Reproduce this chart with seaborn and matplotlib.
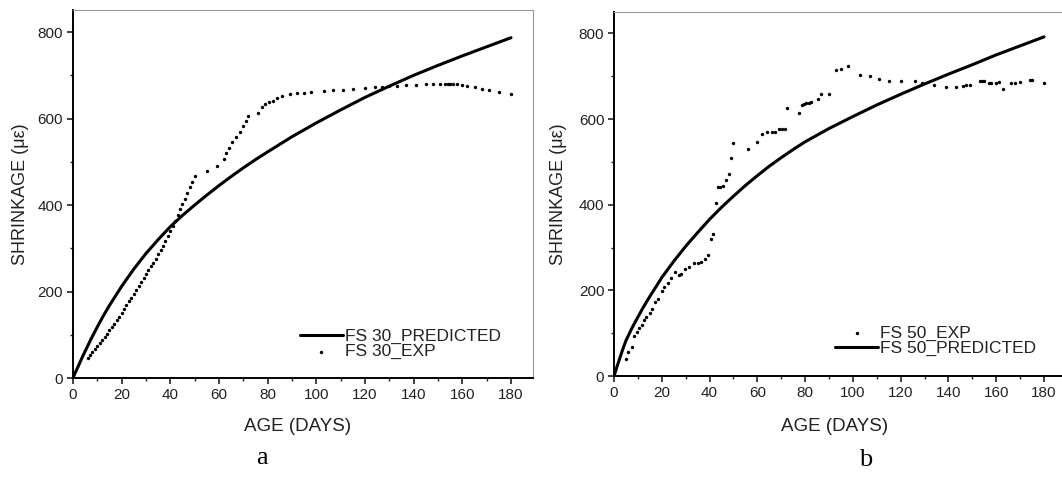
import numpy as np
import pandas as pd
import seaborn as sns
import matplotlib.pyplot as plt
from matplotlib.ticker import MultipleLocator

# panel a: FS 30
pred30_t = [0, 1, 2, 3.5, 5, 7.5, 10, 12.5, 15, 20, 25, 30, 35, 40, 45, 50, 55, 60, 65, 70, 75, 80,
            90, 100, 110, 120, 130, 140, 150, 160, 170, 180]
pred30_v = [0, 13, 25, 44, 62, 91, 118, 144, 168, 212, 252, 288, 320, 350, 376, 400, 423, 445, 466,
            486, 505, 523, 558, 590, 620, 649, 675, 700, 723, 745, 766, 787]

exp30_t = [6, 7, 8, 9, 10, 11, 12, 13, 14, 15, 16, 17, 18, 19, 20, 21, 22, 23, 24, 25,
           26, 27, 28, 29, 30, 31, 32, 33, 34, 35, 36, 37, 38, 39, 40, 41, 42, 43, 44, 45,
           46, 47, 48, 49, 50,
           55, 59, 62, 63, 64, 65.5, 67, 68.5, 70, 71, 72,
           76, 77.5, 79, 80.5, 82, 84, 86, 89, 92, 95, 98, 103, 107, 111, 115, 120, 124,
           127, 130, 133, 137, 141, 145, 148, 151, 153, 154, 155, 156, 158, 160, 162, 165,
           168, 171, 175, 180]
exp30_v = [47, 53, 59, 66, 73, 80, 87, 94, 102, 110, 118, 126, 134, 142, 150, 159, 168, 177, 186, 195,
           204, 213, 222, 231, 240, 249, 258, 267, 276, 286, 296, 306, 317, 328, 340, 352, 364, 377, 390, 402,
           414, 427, 441, 454, 467,
           479, 491, 506, 520, 532, 545, 558, 569, 583, 595, 606,
           613, 626, 633, 638, 641, 647, 652, 657, 659, 660, 661, 663, 665, 667, 669, 671, 673,
           674, 675, 676, 677, 678, 679, 680, 680, 681, 681, 680, 680, 679, 678, 676, 673,
           669, 666, 661, 656]

# panel b: FS 50
pred50_t = [0, 1, 2, 3.5, 5, 7.5, 10, 12.5, 15, 20, 25, 30, 35, 40, 45, 50, 55, 60, 65, 70, 75, 80,
            90, 100, 110, 120, 130, 140, 150, 160, 170, 180]
pred50_v = [0, 18, 35, 60, 83, 112, 138, 163, 186, 230, 268, 303, 335, 366, 394, 420, 445, 468, 490,
            510, 529, 547, 578, 606, 633, 658, 682, 705, 727, 750, 771, 792]

exp50_t = [5, 6, 7.5, 8.5, 9.5, 10.5, 11.5, 12.5, 13.5, 15, 16, 17, 18.5, 20, 21, 22.5, 24, 25.5,
           27, 28, 29.5, 31.5, 33.5, 35, 36.5, 38, 39.5, 40.5, 41.5, 42.5, 43.5, 44.5, 45.5,
           47, 48, 49, 50, 56, 60, 62, 64, 66, 67.5, 69, 70.5, 71.5, 72.5, 77.5, 78.5, 79.5,
           80.5, 81.5, 82.5, 85.5, 86.5, 90, 93, 95, 98, 103, 107, 111, 115, 120, 126, 129,
           134, 139, 143, 146, 147.5, 149, 153, 154, 155, 157, 158, 160, 161, 163, 166, 168,
           170, 174, 175, 180]
exp50_v = [39, 55, 67, 93, 103, 111, 120, 131, 138, 148, 157, 172, 181, 198, 208, 218, 228, 242,
           236, 239, 249, 254, 264, 264, 267, 274, 283, 321, 331, 403, 441, 442, 444,
           457, 472, 509, 544, 531, 547, 566, 569, 571, 571, 577, 577, 578, 626, 614, 633, 636,
           638, 638, 640, 646, 659, 659, 714, 716, 723, 704, 701, 694, 690, 690, 689, 684,
           680, 676, 675, 677, 679, 680, 689, 689, 688, 684, 684, 685, 686, 671, 684, 685,
           686, 692, 691, 684]

sns.set_style('ticks')
plt.rcParams['font.family'] = ['Liberation Sans', 'DejaVu Sans']
plt.rcParams['text.color'] = '#222222'
plt.rcParams['axes.labelcolor'] = '#222222'
plt.rcParams['xtick.color'] = '#222222'
plt.rcParams['ytick.color'] = '#222222'

fig = plt.figure(figsize=(10.62, 4.87), dpi=100)
ax_a = fig.add_axes([0.0687, 0.2238, 0.4331, 0.7556])
ax_b = fig.add_axes([0.5782, 0.2279, 0.4251, 0.7474])


def style_axes(ax, ylim_top, ylab_x, xlab_y):
    ax.set_xlim(0, 189)
    ax.set_ylim(0, ylim_top)
    ax.xaxis.set_major_locator(MultipleLocator(20))
    ax.xaxis.set_minor_locator(MultipleLocator(10))
    ax.yaxis.set_major_locator(MultipleLocator(200))
    ax.yaxis.set_minor_locator(MultipleLocator(100))
    ax.set_xticks([0, 20, 40, 60, 80, 100, 120, 140, 160, 180])
    ax.tick_params(which='major', direction='out', length=4, width=1.2, labelsize=11, pad=3)
    ax.tick_params(which='minor', direction='out', length=2.5, width=1.0)
    for s in ['left', 'bottom']:
        ax.spines[s].set_color('black')
        ax.spines[s].set_linewidth(1.4)
    for s in ['top', 'right']:
        ax.spines[s].set_visible(True)
        ax.spines[s].set_color('#9a9a9a')
        ax.spines[s].set_linewidth(0.8)
    ax.set_xlabel('AGE (DAYS)', fontsize=13.5)
    ax.set_ylabel('SHRINKAGE (με)', fontsize=13)
    ax.xaxis.set_label_coords(0.489, xlab_y)
    ax.xaxis.label.set_va('center')
    ax.yaxis.set_label_coords(ylab_x, 0.5)
    ax.yaxis.label.set_va('center')


# panel a
sns.lineplot(x=pred30_t, y=pred30_v, ax=ax_a, color='black', linewidth=2.2,
             label='FS 30_PREDICTED')
sns.scatterplot(x=exp30_t, y=exp30_v, ax=ax_a, color='black', s=6, linewidth=0,
                label='FS 30_EXP')
style_axes(ax_a, 851, -0.115, -0.133)
ax_a.legend(loc='center left', bbox_to_anchor=(0.493, 0.092), frameon=False, fontsize=12.5,
            handlelength=2.5, handletextpad=0.1, labelspacing=0.0, borderpad=0,
            borderaxespad=0)

# panel b
sns.scatterplot(x=exp50_t, y=exp50_v, ax=ax_b, color='black', s=6, linewidth=0,
                label='FS 50_EXP')
sns.lineplot(x=pred50_t, y=pred50_v, ax=ax_b, color='black', linewidth=2.2,
             label='FS 50_PREDICTED')
style_axes(ax_b, 850, -0.122, -0.140)
ax_b.legend(loc='center left', bbox_to_anchor=((835 - 614) / 451.5, (376 - 340.5) / 364),
            frameon=False, fontsize=12.5, handlelength=2.5, handletextpad=0.1,
            labelspacing=0.0, borderpad=0, borderaxespad=0)

fig.text(262 / 1062, 1 - 458 / 487, 'a', family='Liberation Serif', fontsize=19,
         ha='center', va='center', color='black')
fig.text(866 / 1062, 1 - 460 / 487, 'b', family='Liberation Serif', fontsize=19,
         ha='center', va='center', color='black')

fig.savefig('out.png', dpi=100)
